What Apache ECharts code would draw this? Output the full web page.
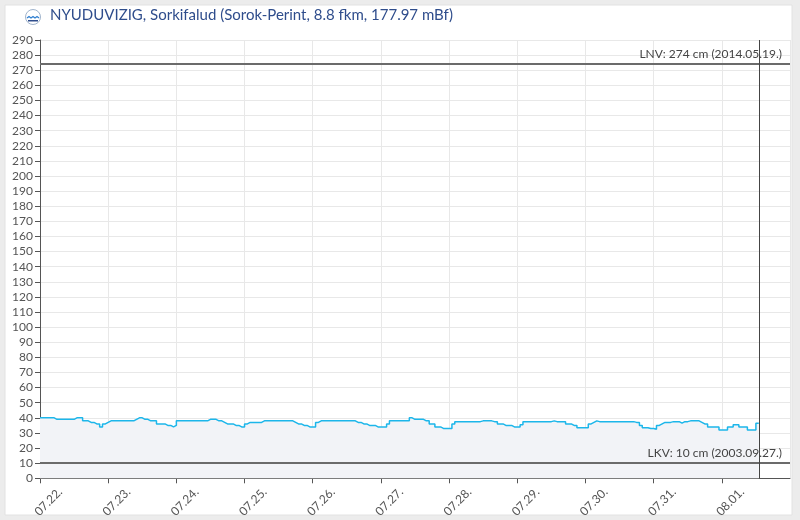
<!DOCTYPE html>
<html>
<head>
<meta charset="utf-8">
<script src="https://cdn.jsdelivr.net/npm/echarts@6/dist/echarts.min.js"></script>
<style>
  html, body { margin: 0; padding: 0; background: #ececec; }
  #chart { width: 800px; height: 520px; }
</style>
</head>
<body>
<div id="chart"></div>
<script>
// vízállás (cm), óránként, 07.22. 00:00-tól
var day0722 = [40,40,40,40,40,39,39,39,39,39,39,39,40,40,40,38,38,37,37,36,36,34,36,37];
var day0723 = [38,38,38,38,38,38,38,38,38,39,40,40,39,39,38,38,38,36,36,36,35,35,34,35];
var day0724 = [38,38,38,38,38,38,38,38,38,38,38,39,39,39,38,38,37,36,36,36,35,35,34,34];
var day0725 = [36,37,37,37,37,37,38,38,38,38,38,38,38,38,38,38,38,37,36,36,35,35,34,34];
var day0726 = [34,37,38,38,38,38,38,38,38,38,38,38,38,38,38,37,37,36,36,35,35,35,34,34];
var day0727 = [34,34,36,38,38,38,38,38,38,38,40,39,39,39,39,38,38,36,36,34,34,33,33,33];
var day0728 = [33,36,37.5,37.5,37.5,37.5,37.5,37.5,37.5,37.5,37.5,38,38,38,38,37.5,37.5,36,36,35,35,35,34,34];
var day0729 = [34,35.5,37.5,37.5,37.5,37.5,37.5,37.5,37.5,37.5,37.5,37.5,38,37.5,37.5,37.5,37.5,36,36,35,35,33.5,33.5,33.5];
var day0730 = [33.5,36,37,38,37.5,37.5,37.5,37.5,37.5,37.5,37.5,37.5,37.5,37.5,37.5,37.5,37.5,37,37,35,33.5,33.5,33,33];
var day0731 = [32.5,35,36,37,37,37,37.5,37.5,37.5,36.5,37.5,37.5,38,38,38,38,37,36,36,34,34,34,34,32];
var day0801 = [32,32,34,34,35.5,35.5,34,34,34,32,32,32,36.5,36.5];

var days = [day0722, day0723, day0724, day0725, day0726, day0727, day0728, day0729, day0730, day0731, day0801];
var startTime = Date.UTC(2024, 6, 22);
var endTime = Date.UTC(2024, 7, 2);
var HOUR = 3600 * 1000;
var DAY = 24 * HOUR;

var lnv = 274, lkv = 10;
var lnvLabel = 'LNV: 274 cm (2014.05.19.)';
var lkvLabel = 'LKV: 10 cm (2003.09.27.)';

var values = [].concat.apply([], days);
var seriesData = values.map(function (v, i) { return [startTime + i * HOUR, v]; });
var lastTime = seriesData[seriesData.length - 1][0];

function pad(n) { return n < 10 ? '0' + n : '' + n; }

var chart = echarts.init(document.getElementById('chart'));

var option = {
  animation: false,
  textStyle: { fontFamily: 'Lato' },
  graphic: [
    { type: 'rect', z: -10, shape: { x: 5, y: 5, width: 787, height: 510 },
      style: { fill: '#ffffff', stroke: '#e2e2e2', lineWidth: 1 } },
    { type: 'circle', shape: { cx: 33, cy: 17, r: 7.5 },
      style: { fill: '#ffffff', stroke: '#9fb3cc', lineWidth: 1 } },
    { type: 'polyline', shape: { points: [[27, 18], [29, 16.5], [31, 18], [33, 16.5], [35, 18], [37, 16.5], [39, 18]] },
      style: { fill: null, stroke: '#2f7fd0', lineWidth: 1.3 } },
    { type: 'rect', shape: { x: 28, y: 20, width: 10, height: 1.5 },
      style: { fill: '#2f4d8c' } },
    { type: 'text', left: 50, top: 8,
      style: { text: 'NYUDUVIZIG, Sorkifalud (Sorok-Perint, 8.8 fkm, 177.97 mBf)',
        font: '15px Lato', fill: '#2f4d8c' } }
  ],
  grid: { left: 40, right: 10, top: 40, bottom: 40 },
  xAxis: {
    type: 'value',
    min: startTime,
    max: endTime,
    interval: DAY,
    axisLine: { lineStyle: { color: '#555', width: 1 } },
    axisTick: { show: true, length: 5, lineStyle: { color: '#555' } },
    splitLine: { show: true, lineStyle: { color: '#e8e8e8' } },
    axisLabel: {
      rotate: 45,
      align: 'center',
      verticalAlign: 'top',
      padding: [6, 0, 0, 0],
      margin: 15,
      color: '#555',
      fontSize: 12,
      showMaxLabel: false,
      formatter: function (v) {
        var d = new Date(v);
        return pad(d.getUTCMonth() + 1) + '.' + pad(d.getUTCDate()) + '.';
      }
    }
  },
  yAxis: {
    type: 'value',
    min: 0,
    max: 290,
    interval: 10,
    axisLine: { show: true, lineStyle: { color: '#555', width: 1 } },
    axisTick: { show: true, length: 5, lineStyle: { color: '#555' } },
    splitLine: { show: true, lineStyle: { color: '#e8e8e8' } },
    axisLabel: { color: '#555', fontSize: 12, margin: 7 }
  },
  series: [{
    type: 'line',
    step: 'end',
    data: seriesData,
    showSymbol: false,
    lineStyle: { color: '#1cb6ea', width: 1.5 },
    areaStyle: { color: '#f2f3f7', opacity: 1 },
    markLine: {
      silent: true,
      symbol: 'none',
      data: [
        { yAxis: lnv, lineStyle: { color: '#6b6b6b', width: 2, type: 'solid' },
          label: { show: true, position: 'insideEndTop', formatter: lnvLabel,
            color: '#444', fontSize: 12, distance: [8, 4] } },
        { yAxis: lkv, lineStyle: { color: '#6b6b6b', width: 2, type: 'solid' },
          label: { show: true, position: 'insideEndTop', formatter: lkvLabel,
            color: '#444', fontSize: 12, distance: [8, 4] } },
        { xAxis: lastTime, lineStyle: { color: '#444', width: 1, type: 'solid' },
          label: { show: false } }
      ]
    }
  }]
};

chart.setOption(option);
</script>
</body>
</html>
